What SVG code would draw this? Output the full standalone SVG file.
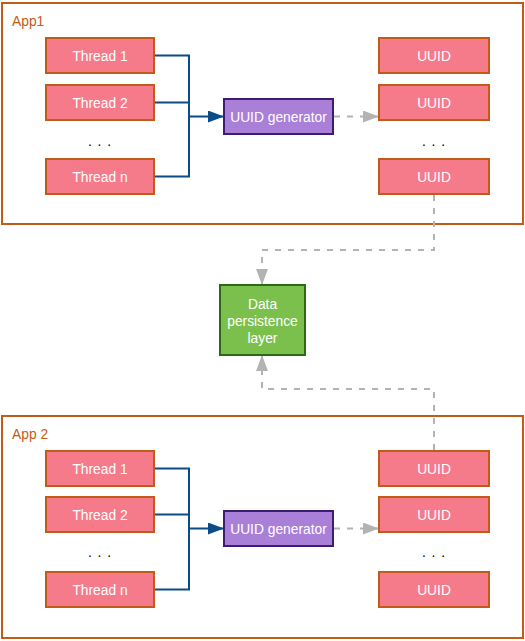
<svg xmlns="http://www.w3.org/2000/svg" width="525" height="641" viewBox="0 0 525 641">
<style>
.cont{fill:#ffffff;stroke:#c25a18;stroke-width:2}
.box{fill:#f57b8b;stroke:#c25a18;stroke-width:2}
.gen{fill:#a97fd8;stroke:#3b1d72;stroke-width:2}
.db{fill:#7bc04d;stroke:#2c6a15;stroke-width:2}
text{font-family:"Liberation Sans",Arial,Helvetica,sans-serif;font-size:13.8px}
.w{fill:#ffffff;text-anchor:middle}
.lbl{fill:#c25a18}
.dots{fill:#000000;text-anchor:middle;letter-spacing:1px}
.blue{fill:none;stroke:#0b4b88;stroke-width:2}
.gray{fill:none;stroke:#b3b3b3;stroke-width:2;stroke-dasharray:6 7}
</style>
<defs>
<marker id="ab" markerWidth="16" markerHeight="12" refX="16" refY="6" orient="auto" markerUnits="userSpaceOnUse"><path d="M0,0 L16,6 L0,12 Z" fill="#0b4b88"/></marker>
<marker id="ag" markerWidth="16" markerHeight="12" refX="16" refY="6" orient="auto" markerUnits="userSpaceOnUse"><path d="M0,0 L16,6 L0,12 Z" fill="#b3b3b3"/></marker>
</defs>
<g id="app1"><rect class="cont" x="2" y="3" width="521" height="221"/><text class="lbl" x="12" y="26">App1</text></g>
<g id="app2"><rect class="cont" x="2" y="416" width="521" height="222"/><text class="lbl" x="12" y="439">App 2</text></g>
<g id="connectors">
<polyline class="blue" points="154,55.5 189,55.5 189,176.5 154,176.5"/>
<line class="blue" x1="154" y1="102.5" x2="189" y2="102.5"/>
<line class="blue" x1="189" y1="116.5" x2="224" y2="116.5" marker-end="url(#ab)"/>
<line class="gray" x1="334" y1="116.5" x2="379" y2="116.5" marker-end="url(#ag)"/>
<polyline class="gray" points="434,195 434,250 262,250 262,285" marker-end="url(#ag)"/>
<polyline class="blue" points="154,468.5 189,468.5 189,589.5 154,589.5"/>
<line class="blue" x1="154" y1="514.5" x2="189" y2="514.5"/>
<line class="blue" x1="189" y1="528.5" x2="224" y2="528.5" marker-end="url(#ab)"/>
<line class="gray" x1="334" y1="528.5" x2="379" y2="528.5" marker-end="url(#ag)"/>
<polyline class="gray" points="434,450 434,389 262,389 262,355" marker-end="url(#ag)"/>
</g>
<g id="a1t1"><rect class="box" x="46" y="38" width="108" height="35"/><text class="w" x="100" y="60.5">Thread 1</text></g>
<g id="a1t2"><rect class="box" x="46" y="85" width="108" height="35"/><text class="w" x="100" y="107.5">Thread 2</text></g>
<text class="dots" x="100" y="146">. . .</text>
<g id="a1tn"><rect class="box" x="46" y="159" width="108" height="35"/><text class="w" x="100" y="181.5">Thread n</text></g>
<g id="a1gen"><rect class="gen" x="224" y="99" width="109" height="35"/><text class="w" x="278.5" y="121.5">UUID generator</text></g>
<g id="a1u1"><rect class="box" x="379" y="38" width="110" height="35"/><text class="w" x="434" y="60.5">UUID</text></g>
<g id="a1u2"><rect class="box" x="379" y="85" width="110" height="35"/><text class="w" x="434" y="107.5">UUID</text></g>
<text class="dots" x="434" y="146">. . .</text>
<g id="a1u3"><rect class="box" x="379" y="159" width="110" height="35"/><text class="w" x="434" y="181.5">UUID</text></g>
<g id="data"><rect class="db" x="220" y="285" width="85" height="70"/><text class="w" x="262.5" y="309">Data</text><text class="w" x="262.5" y="326">persistence</text><text class="w" x="262.5" y="342.5">layer</text></g>
<g id="a2t1"><rect class="box" x="46" y="451" width="108" height="35"/><text class="w" x="100" y="473.5">Thread 1</text></g>
<g id="a2t2"><rect class="box" x="46" y="497" width="108" height="35"/><text class="w" x="100" y="519.5">Thread 2</text></g>
<text class="dots" x="100" y="557">. . .</text>
<g id="a2tn"><rect class="box" x="46" y="572" width="108" height="35"/><text class="w" x="100" y="594.5">Thread n</text></g>
<g id="a2gen"><rect class="gen" x="224" y="511" width="109" height="35"/><text class="w" x="278.5" y="533.5">UUID generator</text></g>
<g id="a2u1"><rect class="box" x="379" y="451" width="110" height="35"/><text class="w" x="434" y="473.5">UUID</text></g>
<g id="a2u2"><rect class="box" x="379" y="497" width="110" height="35"/><text class="w" x="434" y="519.5">UUID</text></g>
<text class="dots" x="434" y="557">. . .</text>
<g id="a2u3"><rect class="box" x="379" y="572" width="110" height="35"/><text class="w" x="434" y="594.5">UUID</text></g>
</svg>
